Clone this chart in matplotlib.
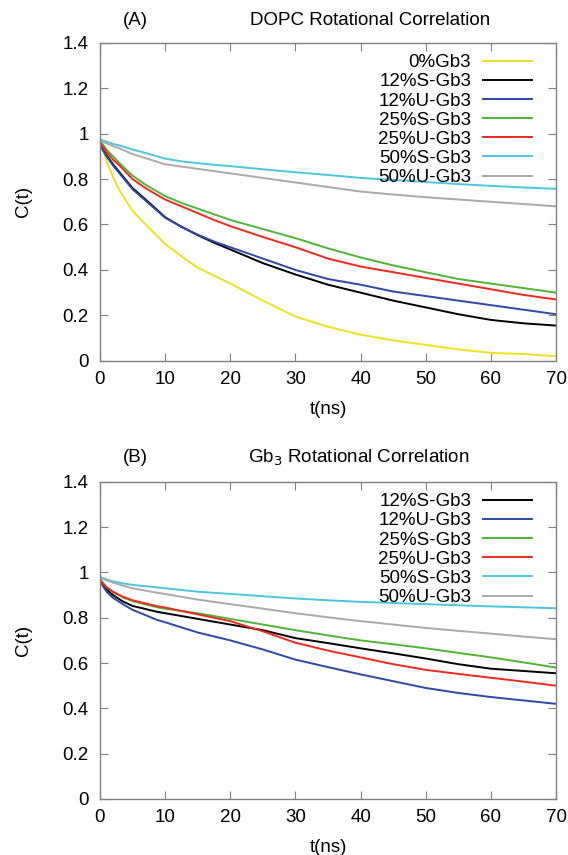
import matplotlib
matplotlib.use('Agg')
import matplotlib.pyplot as plt
from matplotlib.ticker import FormatStrFormatter

plt.rcParams['font.family'] = ['Liberation Sans', 'DejaVu Sans']

# ---- panel A : DOPC rotational correlation ----
tA = [0, 1, 2, 3, 5, 7, 10, 12.5, 15, 17.5, 20, 25, 30, 35, 40, 45, 50, 55, 60, 65, 70]
a_0 = [0.97, 0.88, 0.81, 0.75, 0.66, 0.60, 0.515, 0.46, 0.41, 0.375, 0.34, 0.265, 0.195, 0.15, 0.115, 0.09, 0.07, 0.05, 0.035, 0.03, 0.02]
a_12s = [0.95, 0.905, 0.865, 0.83, 0.76, 0.71, 0.632, 0.59, 0.553, 0.52, 0.49, 0.43, 0.38, 0.335, 0.30, 0.265, 0.235, 0.205, 0.18, 0.165, 0.155]
a_12u = [0.95, 0.90, 0.86, 0.825, 0.755, 0.705, 0.63, 0.59, 0.555, 0.525, 0.50, 0.45, 0.40, 0.36, 0.335, 0.305, 0.285, 0.265, 0.245, 0.225, 0.205]
a_25s = [0.97, 0.93, 0.90, 0.87, 0.815, 0.775, 0.725, 0.695, 0.67, 0.645, 0.62, 0.58, 0.54, 0.495, 0.455, 0.42, 0.39, 0.36, 0.34, 0.32, 0.30]
a_25u = [0.96, 0.92, 0.885, 0.86, 0.80, 0.76, 0.71, 0.68, 0.65, 0.62, 0.593, 0.545, 0.50, 0.45, 0.415, 0.39, 0.365, 0.34, 0.315, 0.29, 0.27]
a_50s = [0.975, 0.965, 0.955, 0.948, 0.93, 0.915, 0.89, 0.878, 0.87, 0.863, 0.857, 0.843, 0.83, 0.818, 0.805, 0.796, 0.787, 0.778, 0.77, 0.763, 0.757]
a_50u = [0.97, 0.957, 0.945, 0.935, 0.91, 0.892, 0.865, 0.855, 0.845, 0.835, 0.825, 0.805, 0.785, 0.765, 0.745, 0.732, 0.72, 0.71, 0.70, 0.69, 0.68]

# ---- panel B : Gb3 rotational correlation ----
tB = [0, 1, 2, 3.5, 5, 8.8, 10, 15, 20, 25, 30, 35, 40, 45, 50, 55, 60, 65, 70]
b_12s = [0.965, 0.925, 0.9, 0.872, 0.852, 0.826, 0.82, 0.795, 0.77, 0.745, 0.71, 0.688, 0.665, 0.643, 0.62, 0.595, 0.575, 0.565, 0.555]
b_12u = [0.96, 0.915, 0.888, 0.86, 0.835, 0.79, 0.78, 0.735, 0.70, 0.66, 0.615, 0.582, 0.55, 0.52, 0.49, 0.468, 0.45, 0.435, 0.42]
b_25s = [0.97, 0.935, 0.913, 0.89, 0.873, 0.846, 0.84, 0.82, 0.795, 0.77, 0.745, 0.722, 0.70, 0.683, 0.665, 0.645, 0.625, 0.603, 0.58]
b_25u = [0.965, 0.935, 0.915, 0.893, 0.877, 0.851, 0.845, 0.815, 0.785, 0.74, 0.69, 0.655, 0.625, 0.595, 0.57, 0.552, 0.535, 0.518, 0.50]
b_50s = [0.98, 0.97, 0.96, 0.952, 0.945, 0.934, 0.93, 0.915, 0.905, 0.895, 0.885, 0.877, 0.87, 0.865, 0.86, 0.855, 0.85, 0.846, 0.842]
b_50u = [0.975, 0.965, 0.955, 0.942, 0.93, 0.91, 0.905, 0.88, 0.86, 0.84, 0.82, 0.802, 0.785, 0.77, 0.755, 0.742, 0.73, 0.717, 0.705]

labels_A = ['0%Gb3', '12%S-Gb3', '12%U-Gb3', '25%S-Gb3', '25%U-Gb3', '50%S-Gb3', '50%U-Gb3']
labels_B = labels_A[1:]

c_yellow = '#eee21c'
c_black = '#000000'
c_blue = '#2d48aa'
c_green = '#4cb832'
c_red = '#f0281e'
c_cyan = '#4cc6e0'
c_grey = '#aaaaaa'

FS = 13.5

fig = plt.figure(figsize=(5.68, 8.55), dpi=100)
axA = fig.add_axes([0.176, 0.578, 0.803, 0.372])
axB = fig.add_axes([0.176, 0.0655, 0.803, 0.371])

seriesA = [a_0, a_12s, a_12u, a_25s, a_25u, a_50s, a_50u]
colsA = [c_yellow, c_black, c_blue, c_green, c_red, c_cyan, c_grey]
for y, c, lab in zip(seriesA, colsA, labels_A):
    axA.plot(tA, y, color=c, lw=1.4, label=lab)

seriesB = [b_12s, b_12u, b_25s, b_25u, b_50s, b_50u]
colsB = colsA[1:]
for y, c, lab in zip(seriesB, colsB, labels_B):
    axB.plot(tB, y, color=c, lw=1.4, label=lab)

for ax in (axA, axB):
    ax.set_xlim(0, 70)
    ax.set_ylim(0, 1.4)
    ax.set_xticks(range(0, 71, 10))
    ax.set_yticks([0, 0.2, 0.4, 0.6, 0.8, 1.0, 1.2, 1.4])
    ax.yaxis.set_major_formatter(FormatStrFormatter('%g'))
    ax.tick_params(direction='in', top=True, right=True, length=6, width=0.8,
                   color='#808080', labelsize=FS)
    ax.tick_params(axis='x', pad=7.5)
    ax.tick_params(axis='y', pad=8)
    for s in ax.spines.values():
        s.set_color('#808080')
        s.set_linewidth(1.0)
    ax.set_xlabel('t(ns)', fontsize=FS, labelpad=9)
    ax.set_ylabel('C(t)', fontsize=FS, labelpad=22)
    ax.legend(loc='upper right', bbox_to_anchor=(0.972, 1.0), frameon=False,
              markerfirst=False, fontsize=FS, handlelength=2.6, handletextpad=0.65,
              labelspacing=0.11, borderaxespad=0.2)

fig.text(0.239, 0.976, '(A)', fontsize=FS, ha='center', va='center')
fig.text(0.651, 0.976, 'DOPC Rotational Correlation', fontsize=FS, ha='center', va='center')
fig.text(0.239, 0.465, '(B)', fontsize=FS, ha='center', va='center')
fig.text(0.632, 0.465, 'Gb$_3$ Rotational Correlation', fontsize=FS, ha='center', va='center')

fig.savefig('out.png', dpi=100)
